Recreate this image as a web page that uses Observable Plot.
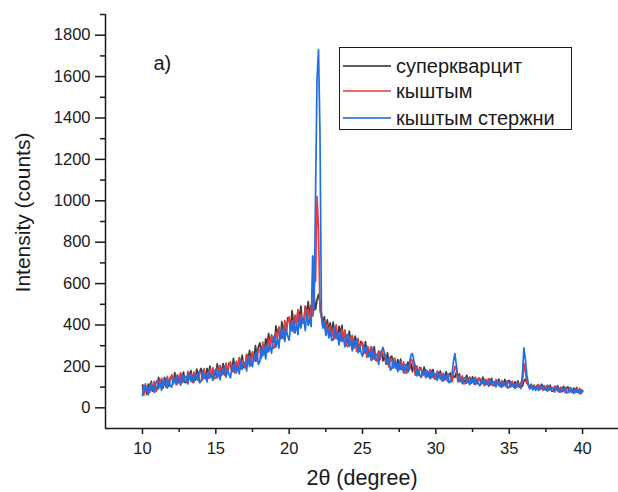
<!DOCTYPE html>
<html><head><meta charset="utf-8">
<script src="https://cdn.jsdelivr.net/npm/d3@7"></script>
<script src="https://cdn.jsdelivr.net/npm/@observablehq/plot@0.6"></script>
<style>
body{margin:0;background:#fff;}
#fig{position:relative;width:618px;height:492px;font-family:"Liberation Sans",Arial,sans-serif;background:#fff;}
#legend{position:absolute;left:339px;top:47px;width:231px;height:81px;border:1.5px solid #1a1a1a;background:#fff;}
#legend .row{position:absolute;left:0;height:24px;display:flex;align-items:center;}
#legend .sw{display:inline-block;width:48px;height:2px;margin-left:3px;margin-right:5px;}
#legend .lb{font-size:20px;line-height:24px;color:#1a1a1a;white-space:nowrap;}
</style></head><body>
<div id="fig"></div>
<script>
// Scan: 2θ from 10° to 40° in 0.1° steps
const scanStart = 10, scanStep = 0.1;
const seriesNames = ["суперкварцит", "кыштым", "кыштым стержни"];
const seriesColors = ["#3a3a3a", "#ec3a3c", "#1f6fe2"];
const legendColors = ["#5e5e5e", "#f06a6a", "#4a86e8"];
const xTicks = [10, 15, 20, 25, 30, 35, 40];
const xMinorTicks = [12.5, 17.5, 22.5, 27.5, 32.5, 37.5];
const yTicks = [0, 200, 400, 600, 800, 1000, 1200, 1400, 1600, 1800];
const yMinorTicks = [100, 300, 500, 700, 900, 1100, 1300, 1500, 1700, 1900];

const superquartzite = [
110,70,98,65,115,92,128,81,116,94,
98,147,113,136,95,147,115,133,104,147,
151,116,170,129,147,123,166,139,173,121,
124,170,148,180,139,165,133,187,149,175,
190,149,176,141,190,166,201,152,187,163,
159,212,175,201,158,214,180,200,169,216,
213,173,239,192,215,189,241,211,254,194,
195,256,233,277,229,266,228,300,256,293,
314,264,304,262,334,305,358,297,348,321,
318,396,348,389,333,416,372,404,365,435,
433,378,469,405,438,401,473,432,491,410,
413,490,458,513,449,495,444,535,476,523,
548,512,455,398,440,372,425,368,410,352,
414,354,384,332,394,355,398,327,368,331,
315,371,320,345,287,346,299,316,272,321,
309,263,320,269,284,251,295,260,295,230,
228,273,245,275,227,251,211,265,220,243,
249,206,227,190,233,206,235,184,214,186,
180,221,186,215,175,208,176,189,159,195,
187,156,197,162,174,152,183,160,185,141,
140,174,156,178,144,163,135,175,143,162,
168,137,154,147,170,141,164,127,150,131,
127,157,133,146,118,150,128,138,117,143,
138,114,148,120,130,114,140,121,142,107,
108,134,121,138,112,127,106,137,113,128,
132,107,122,100,126,112,130,100,119,104,
128,138,120,112,96,114,95,110,92,108,
108,88,114,93,100,87,107,93,109,81,
81,102,91,106,84,96,78,104,84,96,
101,80,92,74,95,83,98,74,89,76,
84];

const kyshtym = [
94,61,116,77,96,74,118,93,128,78,
87,133,112,144,103,130,98,152,115,141,
160,119,145,110,159,134,169,120,154,130,
127,176,141,164,123,174,142,160,130,173,
169,134,189,148,166,143,186,159,194,142,
142,192,170,205,162,191,157,216,176,205,
222,175,208,167,226,199,242,186,228,201,
195,260,218,252,203,271,234,259,225,283,
281,239,317,267,296,269,333,301,353,287,
290,364,337,390,334,378,334,421,368,413,
439,375,421,366,448,411,469,393,451,415,
410,491,436,476,412,494,448,730,610,1020,
870,470,438,395,420,372,405,358,392,345,
385,333,401,341,361,323,377,336,377,302,
295,347,315,350,292,320,273,336,282,310,
315,263,289,243,293,261,296,234,269,236,
227,275,233,274,256,262,218,233,197,238,
229,191,240,196,211,183,222,192,222,168,
167,205,183,235,228,190,157,203,167,188,
192,157,176,145,181,161,185,144,169,147,
141,177,147,164,130,168,140,152,127,159,
153,126,163,200,185,124,153,132,155,116,
117,145,129,149,121,136,114,148,122,137,
143,115,131,107,137,120,141,108,129,112,
108,136,114,127,101,131,110,119,101,125,
120,99,129,104,113,98,121,104,123,115,
215,175,122,108,92,110,90,106,88,104,
113,91,102,84,107,93,109,84,100,86,
82,105,87,97,75,100,82,90,74,94,
91,73,98,77,85,73,92,78,94,68,
80];

const kyshtymRods = [
60,110,77,101,62,114,83,103,74,119,
133,92,119,84,133,109,144,95,130,106,
100,146,124,156,115,141,109,163,125,151,
150,115,169,128,146,122,165,138,172,120,
129,178,143,166,125,176,144,162,132,175,
187,144,173,135,188,163,201,148,186,161,
145,201,176,216,169,201,164,230,186,219,
219,177,249,200,227,199,256,225,272,210,
223,294,251,287,236,310,271,300,264,330,
350,293,337,288,366,335,391,321,378,347,
327,403,371,425,361,405,354,444,385,430,
428,373,463,398,430,392,734,470,1040,1590,
1730,1330,440,385,412,350,390,338,372,325,
328,390,337,364,304,368,320,340,294,350,
354,297,325,275,331,295,333,266,304,267,
248,295,266,298,246,271,228,285,236,261,
252,210,264,275,292,262,243,210,243,182,
191,235,198,218,175,222,186,200,169,206,
211,171,215,255,262,228,201,154,182,157,
146,180,161,184,149,168,140,180,148,166,
162,132,173,139,151,129,161,138,164,121,
127,160,225,262,205,150,128,138,117,142,
147,119,135,111,141,124,145,112,133,116,
106,134,119,138,110,126,104,137,112,127,
124,101,133,106,117,100,126,108,128,95,
100,126,105,117,93,121,102,110,93,160,
290,235,160,118,92,108,86,104,84,100,
84,105,93,109,87,98,80,107,86,98,
96,76,103,81,89,76,97,82,99,71,
75,96,79,89,69,91,76,83,68,87,
78];

const allSeries = [superquartzite, kyshtym, kyshtymRods];
const tables = allSeries.map((vals, s) => vals.map((v, i) => ({
  theta: +(scanStart + i * scanStep).toFixed(2), value: v, series: seriesNames[s]
})));

const xDomain = [7.48, 42.45];
const yDomain = [-100, 1900];

const chart = Plot.plot({
  width: 618, height: 492,
  marginLeft: 105, marginRight: 0, marginTop: 14, marginBottom: 64,
  x: {domain: xDomain, label: null},
  y: {domain: yDomain, label: null},
  style: {fontFamily: '"Liberation Sans", Arial, sans-serif', fontSize: "16.5px", color: "#1a1a1a", background: "#fff", overflow: "visible"},
  marks: [
    ...tables.map((t, s) => Plot.line(t, {x: "theta", y: "value", stroke: seriesColors[s], strokeWidth: 1.7})),
    Plot.axisX({ticks: xTicks, tickSize: 6, tickPadding: 8, strokeWidth: 1.5, fontSize: 16.5, label: null, tickFormat: d => String(d)}),
    Plot.axisX({ticks: xMinorTicks, tickSize: 4, strokeWidth: 1.5, label: null, tickFormat: () => ""}),
    Plot.axisY({ticks: yTicks, tickSize: 10, tickPadding: 5, strokeWidth: 1.5, fontSize: 16.5, label: null, tickFormat: d => String(d)}),
    Plot.axisY({ticks: yMinorTicks, tickSize: 5, strokeWidth: 1.5, label: null, tickFormat: () => ""}),
    Plot.ruleX([xDomain[0]], {strokeWidth: 1.5}),
    Plot.ruleY([yDomain[0]], {strokeWidth: 1.5}),
    Plot.text(["2θ (degree)"], {text: d => d, frameAnchor: "bottom", dy: 50, fontSize: 21.5, lineAnchor: "middle"}),
    Plot.text(["Intensity (counts)"], {text: d => d, frameAnchor: "left", rotate: -90, dx: -82, dy: -9, fontSize: 21, textAnchor: "middle", lineAnchor: "middle"}),
    Plot.text(["a)"], {text: d => d, frameAnchor: "top-left", dx: 48, dy: 49, textAnchor: "start", fontSize: 20, lineAnchor: "middle"})
  ]
});

const fig = document.getElementById("fig");
fig.appendChild(chart);

const legend = document.createElement("div");
legend.id = "legend";
const rowTops = [6, 31, 58];
seriesNames.forEach((name, i) => {
  const row = document.createElement("div");
  row.className = "row";
  row.style.top = rowTops[i] + "px";
  const sw = document.createElement("span");
  sw.className = "sw";
  sw.style.background = legendColors[i];
  const lb = document.createElement("span");
  lb.className = "lb";
  lb.textContent = name;
  row.appendChild(sw); row.appendChild(lb);
  legend.appendChild(row);
});
fig.appendChild(legend);
</script>
</body></html>
